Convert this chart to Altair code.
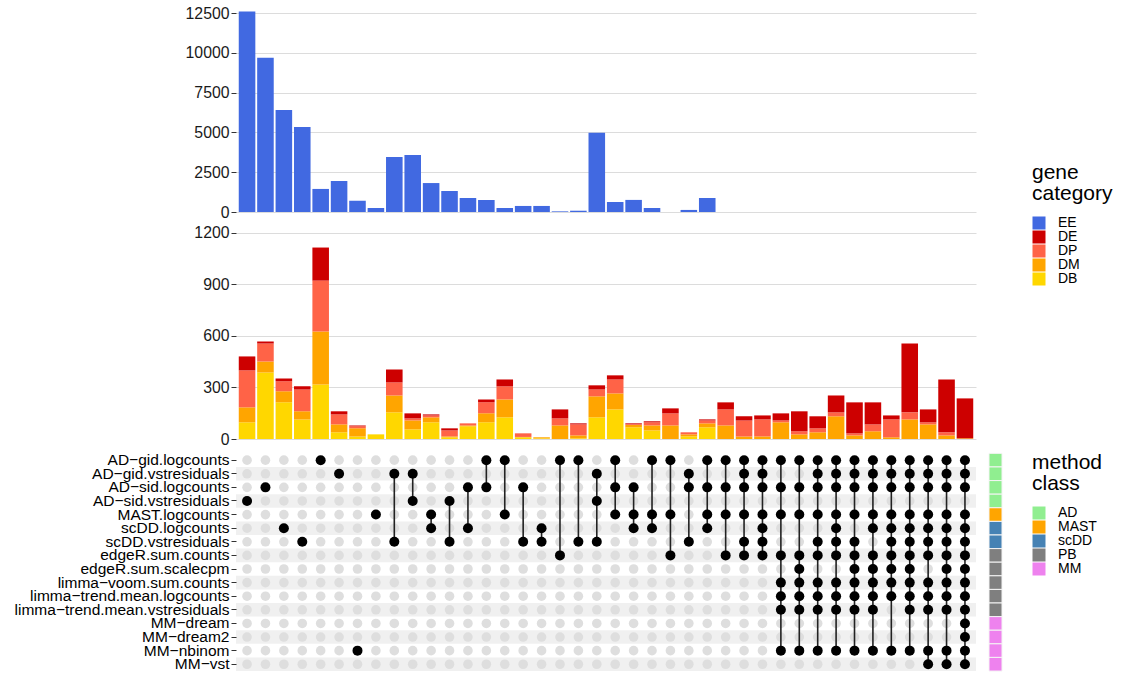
import altair as alt
import pandas as pd

# ---------------- data ----------------
METHODS = ["AD−gid.logcounts", "AD−gid.vstresiduals", "AD−sid.logcounts", "AD−sid.vstresiduals",
           "MAST.logcounts", "scDD.logcounts", "scDD.vstresiduals", "edgeR.sum.counts",
           "edgeR.sum.scalecpm", "limma−voom.sum.counts", "limma−trend.mean.logcounts",
           "limma−trend.mean.vstresiduals", "MM−dream", "MM−dream2", "MM−nbinom", "MM−vst"]
METHOD_CLASS = ["AD", "AD", "AD", "AD", "MAST", "scDD", "scDD", "PB", "PB", "PB", "PB", "PB",
                "MM", "MM", "MM", "MM"]
CLASSES = ["AD", "MAST", "scDD", "PB", "MM"]
CLASS_COLORS = ["#90EE90", "#FFA500", "#4682B4", "#7F7F7F", "#EE82EE"]

CATS = ["EE", "DE", "DP", "DM", "DB"]
CAT_COLORS = ["#4169E1", "#CD0000", "#FF6347", "#FFA500", "#FFD700"]

# intersections: indices into METHODS, one list per column
SETS = [
    [3], [2], [5], [6], [0], [1], [14], [4],
    [1, 6], [1, 3], [4, 5], [3, 6], [2, 5], [0, 2], [0, 4], [2, 6], [5, 6], [0, 7], [0, 6],
    [1, 3, 6], [0, 2, 4], [2, 4, 5], [0, 4, 5], [0, 4, 7], [1, 2, 6],
    [0, 2, 4, 5], [0, 2, 4, 7], [0, 1, 2, 4, 6, 7], [0, 1, 2, 4, 5, 6, 7],
    [0, 2, 4, 7, 9, 10, 11, 14],
    [0, 2, 4, 7, 8, 9, 10, 11, 14],
    [0, 1, 2, 4, 6, 7, 9, 10, 11, 14],
    [0, 1, 2, 4, 5, 6, 7, 9, 10, 11, 14],
    [0, 1, 2, 4, 6, 7, 8, 9, 10, 11, 14],
    [0, 1, 2, 4, 5, 7, 8, 9, 10, 11, 14],
    [0, 1, 2, 4, 5, 6, 7, 8, 9, 10, 14],
    [0, 1, 2, 4, 5, 6, 7, 8, 9, 10, 11, 14],
    [0, 1, 2, 4, 5, 6, 7, 9, 10, 11, 14, 15],
    [0, 1, 2, 4, 5, 6, 7, 8, 9, 10, 11, 14, 15],
    [0, 1, 2, 4, 5, 6, 7, 8, 9, 10, 11, 12, 13, 14, 15],
]

EE = [12600, 9700, 6420, 5350, 1450, 1950, 700, 250, 3460, 3590, 1820, 1320, 880, 760, 250,
      380, 380, 40, 80, 4980, 630, 760, 250, 0, 130, 880, 0, 0, 0, 0, 0, 0, 0, 0, 0, 0, 0, 0, 0, 0]
DB = [97, 387, 213, 114, 317, 39, 15, 27, 155, 56, 97, 10, 74, 97, 126, 10, 4, 0, 4, 126,
      172, 68, 50, 0, 15, 68, 0, 0, 0, 0, 0, 0, 0, 0, 0, 0, 0, 0, 0, 0]
DM = [87, 64, 64, 47, 308, 46, 47, 0, 98, 52, 29, 5, 5, 52, 104, 2, 6, 79, 17, 122,
      93, 14, 29, 79, 12, 23, 79, 15, 15, 97, 27, 39, 132, 21, 45, 10, 114, 85, 21, 4]
DP = [215, 104, 58, 127, 296, 58, 12, 0, 76, 12, 11, 35, 12, 64, 76, 21, 0, 41, 64, 40,
      81, 4, 18, 70, 12, 17, 93, 93, 99, 11, 18, 23, 23, 12, 40, 104, 41, 12, 18, 0]
DE = [81, 12, 17, 18, 192, 18, 5, 0, 75, 29, 6, 12, 0, 17, 40, 0, 0, 52, 6, 24,
      24, 5, 6, 29, 0, 6, 41, 24, 23, 41, 116, 70, 98, 180, 128, 23, 400, 75, 307, 232]

COLS = list(range(1, len(SETS) + 1))

# ---------------- tables ----------------
df_top = pd.DataFrame({"col": COLS, "EE": EE})

stack_rank = {"DB": 0, "DM": 1, "DP": 2, "DE": 3}
mid_rows = []
for i, c in enumerate(COLS):
    for cat, arr in (("DB", DB), ("DM", DM), ("DP", DP), ("DE", DE)):
        mid_rows.append({"col": c, "category": cat, "value": arr[i], "rank": stack_rank[cat]})
df_mid = pd.DataFrame(mid_rows)

dot_rows = []
line_rows = []
for c, s in zip(COLS, SETS):
    for r, m in enumerate(METHODS):
        dot_rows.append({"col": c, "method": m, "active": r in s})
    if len(s) > 1:
        line_rows.append({"col": c, "top": METHODS[min(s)], "bottom": METHODS[max(s)]})
df_dots = pd.DataFrame(dot_rows)
df_on = df_dots[df_dots.active]
df_off = df_dots[~df_dots.active]
df_lines = pd.DataFrame(line_rows)
df_stripes = pd.DataFrame({"method": [m for i, m in enumerate(METHODS) if i % 2 == 1]})
df_strip = pd.DataFrame({"method": METHODS, "class": METHOD_CLASS})

# ---------------- styling ----------------
FONT = "Liberation Sans"
W = 740
xscale = alt.Scale(domain=COLS, paddingInner=0.1, paddingOuter=0.15)
yscale_m = alt.Scale(domain=METHODS, paddingInner=0, paddingOuter=0.1)


def num_axis(vals):
    return alt.Axis(values=vals, format="d", title=None, grid=True, gridColor="#dcdcdc",
                    gridWidth=1, domain=False, ticks=True, tickSize=5, tickColor="#333333",
                    labelColor="#1a1a1a", labelFontSize=15.8, labelPadding=2, labelFont=FONT)


meth_axis = alt.Axis(title=None, grid=False, domain=False, ticks=True, tickSize=5,
                     tickColor="#333333", labelColor="#000000", labelFontSize=15.5,
                     labelPadding=2, labelFont=FONT, labelLimit=400)


def legend(title, y):
    return alt.Legend(title=title, orient="none", legendX=796, legendY=y,
                      titleFont=FONT, titleFontSize=21, titleFontWeight="normal",
                      titleColor="#000000", titleLineHeight=21, titlePadding=12,
                      labelFont=FONT, labelFontSize=14, labelColor="#000000",
                      symbolType="square", symbolSize=169, symbolStrokeWidth=0,
                      symbolOpacity=1, clipHeight=14, rowPadding=0, labelOffset=12)


top = alt.Chart(df_top).mark_bar(color="#4169E1").encode(
    x=alt.X("col:O", scale=xscale, axis=None),
    y=alt.Y("EE:Q", scale=alt.Scale(domain=[0, 12700], nice=False),
            axis=num_axis([0, 2500, 5000, 7500, 10000, 12500])),
).properties(width=W, height=202)

mid = alt.Chart(df_mid).mark_bar().encode(
    x=alt.X("col:O", scale=xscale, axis=None),
    y=alt.Y("value:Q", stack="zero", scale=alt.Scale(domain=[0, 1244], nice=False),
            axis=num_axis([0, 300, 600, 900, 1200])),
    color=alt.Color("category:N", scale=alt.Scale(domain=CATS, range=CAT_COLORS),
                    legend=legend(["gene", "category"], -63)),
    order=alt.Order("rank:Q", sort="ascending"),
).properties(width=W, height=214)

stripes = alt.Chart(df_stripes).mark_rect(color="#f0f0f0").encode(
    y=alt.Y("method:N", scale=yscale_m, axis=meth_axis),
    x=alt.value(0), x2=alt.value(W),
)
off = alt.Chart(df_off).mark_circle(size=92, color="#dedede", opacity=1).encode(
    x=alt.X("col:O", scale=xscale, axis=None),
    y=alt.Y("method:N", scale=yscale_m, axis=meth_axis),
)
lines = alt.Chart(df_lines).mark_rule(color="#222222", strokeWidth=1.6).encode(
    x=alt.X("col:O", scale=xscale, axis=None),
    y=alt.Y("top:N", scale=yscale_m, axis=meth_axis),
    y2="bottom:N",
)
on = alt.Chart(df_on).mark_circle(size=100, color="#000000", opacity=1).encode(
    x=alt.X("col:O", scale=xscale, axis=None),
    y=alt.Y("method:N", scale=yscale_m, axis=meth_axis),
)
strip = alt.Chart(df_strip).mark_rect(stroke="#f4f4f4", strokeWidth=1).encode(
    y=alt.Y("method:N", scale=yscale_m, axis=meth_axis),
    x=alt.value(753), x2=alt.value(766),
    color=alt.Color("class:N", scale=alt.Scale(domain=CLASSES, range=CLASS_COLORS),
                    legend=legend(["method", "class"], 0)),
)
mat = alt.layer(stripes, off, lines, on, strip).properties(width=W, height=220.4)

chart = alt.vconcat(top, mid, mat, spacing=13, bounds="flush").resolve_scale(
    color="independent"
).properties(
    padding={"left": 14, "top": 5, "right": 5, "bottom": 3}, background="white"
).configure(font=FONT).configure_view(strokeWidth=0, stroke="transparent")

chart.save("out.html", embed_options={"renderer": "svg", "actions": False})
